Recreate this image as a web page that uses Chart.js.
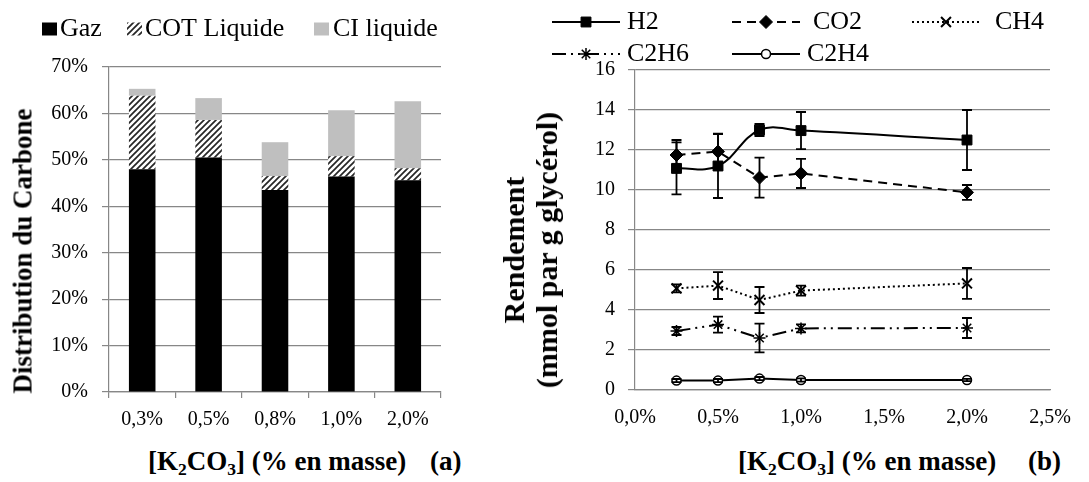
<!DOCTYPE html>
<html>
<head>
<meta charset="utf-8">
<script src="https://cdn.jsdelivr.net/npm/chart.js"></script>
<style>
  html, body { margin: 0; padding: 0; background: #fff; }
  body { width: 1089px; height: 482px; position: relative; overflow: hidden;
         font-family: "Liberation Serif", "Times New Roman", serif; color: #000; }
  canvas { position: absolute; top: 0; }
  #chartA { left: 0; }
  #chartB { left: 480px; }
  .title { position: absolute; font-weight: bold; white-space: nowrap; }
  .xtitle { font-size: 27px; line-height: 30px; top: 446px; }
  .xtitle sub { font-size: 0.65em; vertical-align: -0.3em; line-height: 0; }
  .ytitle { transform: translate(-50%, -50%) rotate(-90deg); text-align: center; }
</style>
</head>
<body>
<canvas id="chartA" width="480" height="445"></canvas>
<canvas id="chartB" width="609" height="445"></canvas>
<div class="title ytitle" style="left:23px; top:251px; font-size:27px;">Distribution du Carbone</div>
<div class="title ytitle" style="left:530px; top:250px; font-size:30px; line-height:33px;">Rendement<br>(mmol par g glycérol)</div>
<div class="title xtitle" style="left:148px;">[K<sub>2</sub>CO<sub>3</sub>] (% en masse)</div>
<div class="title xtitle" style="left:430px;">(a)</div>
<div class="title xtitle" style="left:738px;">[K<sub>2</sub>CO<sub>3</sub>] (% en masse)</div>
<div class="title xtitle" style="left:1028px;">(b)</div>
<script>
// (a) carbon distribution (% of carbon fed)
const concLabels = ['0,3%', '0,5%', '0,8%', '1,0%', '2,0%'];
const gaz = [48.0, 50.5, 43.5, 46.4, 45.6];
const cotLiquide = [15.8, 8.1, 3.0, 4.4, 2.6];
const ciLiquide = [1.5, 4.7, 7.3, 9.9, 14.4];

// (b) yields in mmol per g glycerol, +/- error
const k2co3 = [0.25, 0.5, 0.75, 1.0, 2.0];
const h2 = [11.08, 11.2, 13.0, 12.97, 12.5];
const h2Err = [1.3, 1.6, 0.3, 0.93, 1.5];
const co2 = [11.75, 11.92, 10.62, 10.83, 9.88];
const co2Err = [0.75, 0.9, 1.0, 0.73, 0.37];
const ch4 = [5.08, 5.22, 4.5, 4.97, 5.33];
const ch4Err = [0.2, 0.67, 0.65, 0.25, 0.77];
const c2h6 = [2.95, 3.27, 2.6, 3.08, 3.1];
const c2h6Err = [0.2, 0.4, 0.72, 0.2, 0.5];
const c2h4 = [0.47, 0.47, 0.57, 0.5, 0.5];
const c2h4Err = [0.08, 0.08, 0.08, 0.08, 0.06];

const GRID = '#878787';
const SERIF = '"Liberation Serif", "Times New Roman", serif';

// diagonal hatch for "COT Liquide"
function hatch() {
  const c = document.createElement('canvas');
  c.width = 6;
  c.height = 6;
  const g = c.getContext('2d');
  g.fillStyle = '#fff';
  g.fillRect(0, 0, 6, 6);
  g.strokeStyle = '#262626';
  g.lineWidth = 1.7;
  g.beginPath();
  g.moveTo(-1, 7); g.lineTo(7, -1);
  g.moveTo(-1, 1); g.lineTo(1, -1);
  g.moveTo(5, 7); g.lineTo(7, 5);
  g.stroke();
  return g.createPattern(c, 'repeat');
}

// legend laid out in fixed slots, like the spreadsheet one
const slotLegend = {
  id: 'slotLegend',
  afterDraw(chart, args, opts) {
    const ctx = chart.ctx;
    ctx.save();
    ctx.font = opts.font;
    ctx.textBaseline = 'middle';
    chart.data.datasets.forEach((ds, i) => {
      const s = opts.slots[i];
      if (opts.box) {
        ctx.fillStyle = ds.backgroundColor;
        ctx.fillRect(s.x, s.y - 6.5, 15, 13);
      } else {
        ctx.strokeStyle = ds.borderColor;
        ctx.lineWidth = ds.borderWidth;
        ctx.setLineDash(ds.borderDash || []);
        ctx.beginPath();
        ctx.moveTo(s.x, s.y);
        ctx.lineTo(s.x + opts.lineLength, s.y);
        ctx.stroke();
        ctx.setLineDash([]);
        ctx.fillStyle = ds.pointBackgroundColor;
        ctx.strokeStyle = ds.pointBorderColor;
        ctx.lineWidth = ds.pointBorderWidth;
        Chart.helpers.drawPoint(ctx, {
          pointStyle: ds.pointStyle,
          radius: ds.pointRadius,
          borderWidth: ds.pointBorderWidth,
          rotation: 0,
        }, s.x + opts.lineLength / 2, s.y);
      }
      ctx.fillStyle = '#000';
      ctx.fillText(ds.label, s.tx, s.y);
    });
    ctx.restore();
  },
};

const errorBars = {
  id: 'errorBars',
  afterDatasetsDraw(chart) {
    const { ctx, scales: { x, y } } = chart;
    ctx.save();
    ctx.strokeStyle = '#000';
    ctx.lineWidth = 1.8;
    chart.data.datasets.forEach((ds) => {
      ds.data.forEach((p, j) => {
        const e = ds.errorBars[j];
        const px = x.getPixelForValue(p.x);
        const top = y.getPixelForValue(p.y + e);
        const bot = y.getPixelForValue(p.y - e);
        ctx.beginPath();
        ctx.moveTo(px, top); ctx.lineTo(px, bot);
        ctx.moveTo(px - 5, top); ctx.lineTo(px + 5, top);
        ctx.moveTo(px - 5, bot); ctx.lineTo(px + 5, bot);
        ctx.stroke();
      });
    });
    ctx.restore();
  },
};

const pts = (ys) => k2co3.map((x, i) => ({ x, y: ys[i] }));

function draw() {
  Chart.defaults.font.family = SERIF;
  Chart.defaults.color = '#000';

  new Chart(document.getElementById('chartA'), {
    type: 'bar',
    data: {
      labels: concLabels,
      datasets: [
        { label: 'Gaz', data: gaz, backgroundColor: '#000' },
        { label: 'COT Liquide', data: cotLiquide, backgroundColor: hatch() },
        { label: 'CI liquide', data: ciLiquide, backgroundColor: '#bfbfbf' },
      ],
    },
    options: {
      responsive: false,
      animation: false,
      devicePixelRatio: 1,
      layout: { padding: { top: 67, right: 39, left: 0, bottom: 0 } },
      datasets: { bar: { categoryPercentage: 1, barPercentage: 0.4, borderWidth: 0 } },
      plugins: {
        legend: { display: false },
        tooltip: { enabled: false },
        slotLegend: {
          box: true,
          font: `26px ${SERIF}`,
          slots: [{ x: 42, y: 29, tx: 60 }, { x: 127, y: 29, tx: 145 }, { x: 314, y: 29, tx: 333 }],
        },
      },
      scales: {
        x: {
          stacked: true,
          grid: { drawOnChartArea: false, tickLength: 6, color: GRID, lineWidth: 1.2 },
          border: { color: GRID, width: 1.2 },
          ticks: { padding: 10, maxRotation: 0, font: { size: 20 } },
          afterFit: (s) => { s.height = 53; },
        },
        y: {
          stacked: true,
          min: 0,
          max: 70,
          ticks: { stepSize: 10, padding: 14, font: { size: 20 }, callback: (v) => v + '%' },
          grid: { color: GRID, tickLength: 7, lineWidth: 1.2 },
          border: { color: GRID, width: 1.2 },
          afterFit: (s) => { s.width = 109; },
        },
      },
    },
    plugins: [slotLegend],
  });

  new Chart(document.getElementById('chartB'), {
    type: 'scatter',
    data: {
      datasets: [
        { label: 'H2', data: pts(h2), errorBars: h2Err, tension: 0.4,
          pointStyle: 'rect', pointRadius: 7, pointBackgroundColor: '#000', pointBorderWidth: 1 },
        { label: 'CO2', data: pts(co2), errorBars: co2Err, borderDash: [9, 6],
          pointStyle: 'rectRot', pointRadius: 6.5, pointBackgroundColor: '#000', pointBorderWidth: 1 },
        { label: 'CH4', data: pts(ch4), errorBars: ch4Err, borderDash: [2, 3],
          pointStyle: 'crossRot', pointRadius: 7, pointBackgroundColor: '#000', pointBorderWidth: 2 },
        { label: 'C2H6', data: pts(c2h6), errorBars: c2h6Err, borderDash: [14, 5, 2, 5, 2, 5],
          pointStyle: 'star', pointRadius: 6, pointBackgroundColor: '#000', pointBorderWidth: 1.5 },
        { label: 'C2H4', data: pts(c2h4), errorBars: c2h4Err,
          pointStyle: 'circle', pointRadius: 4.5, pointBackgroundColor: '#fff', pointBorderWidth: 1.5 },
      ].map((ds) => ({ showLine: true, borderColor: '#000', borderWidth: 2, pointBorderColor: '#000', ...ds })),
    },
    options: {
      responsive: false,
      animation: false,
      devicePixelRatio: 1,
      layout: { padding: { top: 70, right: 39, left: 0, bottom: 0 } },
      plugins: {
        legend: { display: false },
        tooltip: { enabled: false },
        slotLegend: {
          font: `26px ${SERIF}`,
          lineLength: 68,
          slots: [
            { x: 72, y: 22, tx: 147 },
            { x: 252, y: 22, tx: 333 },
            { x: 432, y: 22, tx: 515 },
            { x: 72, y: 54, tx: 147 },
            { x: 252, y: 54, tx: 327 },
          ],
        },
      },
      scales: {
        x: {
          type: 'linear',
          min: 0,
          max: 2.5,
          grid: { display: false, drawTicks: false },
          border: { display: true, color: GRID, width: 1.2 },
          ticks: { stepSize: 0.5, padding: 16, maxRotation: 0, font: { size: 20 },
            callback: (v) => v.toFixed(1).replace('.', ',') + '%' },
          afterFit: (s) => { s.height = 55; },
        },
        y: {
          min: 0,
          max: 16,
          ticks: { stepSize: 2, padding: 13, font: { size: 20 } },
          grid: { color: GRID, tickLength: 7, lineWidth: 1.2 },
          border: { color: GRID, width: 1.2 },
          afterFit: (s) => { s.width = 155; },
        },
      },
    },
    plugins: [errorBars, slotLegend],
  });
}

// canvas text needs the serif face ready before the first paint
Promise.all([
  document.fonts.load(`20px ${SERIF}`),
  document.fonts.load(`bold 20px ${SERIF}`),
]).catch(() => {}).then(draw);
</script>
</body>
</html>
